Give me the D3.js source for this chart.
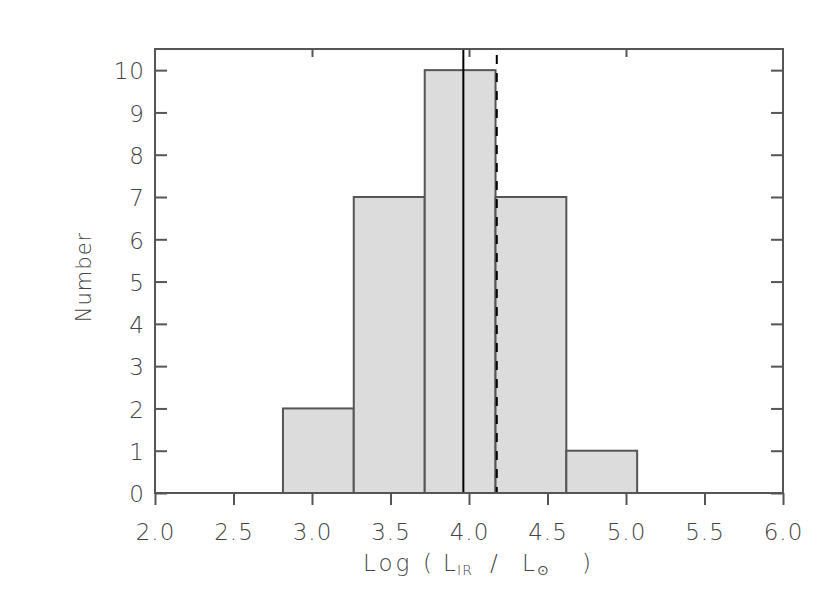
<!DOCTYPE html>
<html>
<head>
<meta charset="utf-8">
<script src="https://cdn.jsdelivr.net/npm/d3@7"></script>
<style>
    body { margin: 0; background: #fff; }
    #lir_histogram { width: 830px; height: 593px; }
    #lir_histogram text { font-family: "DejaVu Sans", sans-serif; font-weight: 200; fill: #444; }
</style>
</head>
<body>
<div id="lir_histogram"></div>
<script>
    // histogram bins (log L_IR / L_sun) and counts per bin
    var bin_edges = [2.815, 3.266, 3.718, 4.169, 4.620, 5.071];
    var counts = [2, 7, 10, 7, 1];

    // vertical markers
    var median_value = 3.964;
    var mean_value = 4.177;

    var x_ticks = [2.0, 2.5, 3.0, 3.5, 4.0, 4.5, 5.0, 5.5, 6.0];
    var x_top_ticks = [3.0, 4.0, 5.0];
    var y_ticks = [0, 1, 2, 3, 4, 5, 6, 7, 8, 9, 10];

    // axis title pieces: text, subscript?
    var x_title_parts = [
        ["Log", false], ["(", false], ["L", false], ["IR", true],
        ["/", false], ["L", false], ["\u2299", true], [")", false]
    ];
    var x_title_offsets = [363, 423, 443, 457, 490, 522, 537, 582];

    var full_width = 830,
        full_height = 593;

    var margin = {
        top: 49,
        right: 47,
        bottom: 100,
        left: 155
    };

    var width = full_width - margin.left - margin.right;
    var height = full_height - margin.top - margin.bottom;

    var axis_color = "#555";

    var x = d3.scaleLinear()
        .domain([2, 6])
        .range([0, width]);

    var y = d3.scaleLinear()
        .domain([0, 10.5])
        .range([height, 0]);

    var svg = d3.select("#lir_histogram")
        .append("svg")
        .attr("width", full_width)
        .attr("height", full_height);

    var g = svg.append("g")
        .attr("transform", "translate(" + margin.left + "," + margin.top + ")");

    // bars
    g.selectAll("rect.bar")
        .data(counts)
        .enter()
        .append("rect")
        .attr("class", "bar")
        .attr("x", function(d, i) { return x(bin_edges[i]); })
        .attr("y", function(d) { return y(d); })
        .attr("width", function(d, i) { return x(bin_edges[i + 1]) - x(bin_edges[i]); })
        .attr("height", function(d) { return y(0) - y(d); })
        .attr("fill", "#dcdcdc")
        .attr("stroke", axis_color)
        .attr("stroke-width", 2);

    // median line (solid) and mean line (dashed)
    g.append("line")
        .attr("x1", x(median_value))
        .attr("x2", x(median_value))
        .attr("y1", y(0))
        .attr("y2", y(10.5))
        .attr("stroke", "#000")
        .attr("stroke-width", 2);

    g.append("line")
        .attr("x1", x(mean_value))
        .attr("x2", x(mean_value))
        .attr("y1", y(10.5))
        .attr("y2", y(0))
        .attr("stroke", "#000")
        .attr("stroke-width", 2)
        .attr("stroke-dasharray", "9,9")
        .attr("stroke-dashoffset", 12);

    // frame
    g.append("rect")
        .attr("width", width)
        .attr("height", height)
        .attr("fill", "none")
        .attr("stroke", axis_color)
        .attr("stroke-width", 2);

    // X Axis
    var xAxis = g.append("g")
        .attr("transform", "translate(0," + height + ")")
        .call(d3.axisBottom(x)
            .tickValues(x_ticks)
            .tickFormat(d3.format(".1f"))
            .tickSize(12)
            .tickPadding(19));

    // top ticks, integers only, pointing in
    var xTop = g.append("g")
        .call(d3.axisTop(x)
            .tickValues(x_top_ticks)
            .tickFormat("")
            .tickSize(-8));

    // Y Axis
    var yAxis = g.append("g")
        .call(d3.axisLeft(y)
            .tickValues(y_ticks)
            .tickFormat(d3.format("d"))
            .tickSize(-12)
            .tickPadding(10));

    var yRight = g.append("g")
        .attr("transform", "translate(" + width + ",0)")
        .call(d3.axisRight(y)
            .tickValues(y_ticks)
            .tickFormat("")
            .tickSize(-12));

    [xAxis, xTop, yAxis, yRight].forEach(function(a) {
        a.select(".domain").remove();
        a.selectAll(".tick line")
            .attr("stroke", axis_color)
            .attr("stroke-width", 2);
        a.selectAll(".tick text")
            .attr("font-size", 23)
            .style("letter-spacing", "1px");
    });

    yAxis.selectAll(".tick text").attr("dy", "0.38em");

    // X Axis label
    var xLabel = svg.append("text")
        .attr("y", 571)
        .attr("font-size", 23)
        .style("letter-spacing", "3px");
    xLabel.selectAll("tspan")
        .data(x_title_parts)
        .enter()
        .append("tspan")
        .attr("x", function(d, i) { return x_title_offsets[i]; })
        .attr("y", function(d) { return d[1] ? 575 : 571; })
        .attr("font-size", function(d) { return d[1] ? 14 : 23; })
        .style("letter-spacing", function(d) { return d[1] ? "1px" : "3px"; })
        .text(function(d) { return d[0]; });

    // Y Axis label
    svg.append("text")
        .attr("transform", "rotate(-90)")
        .attr("x", -277)
        .attr("y", 91)
        .attr("font-size", 21)
        .style("text-anchor", "middle")
        .style("letter-spacing", "1px")
        .text("Number");
</script>
</body>
</html>
